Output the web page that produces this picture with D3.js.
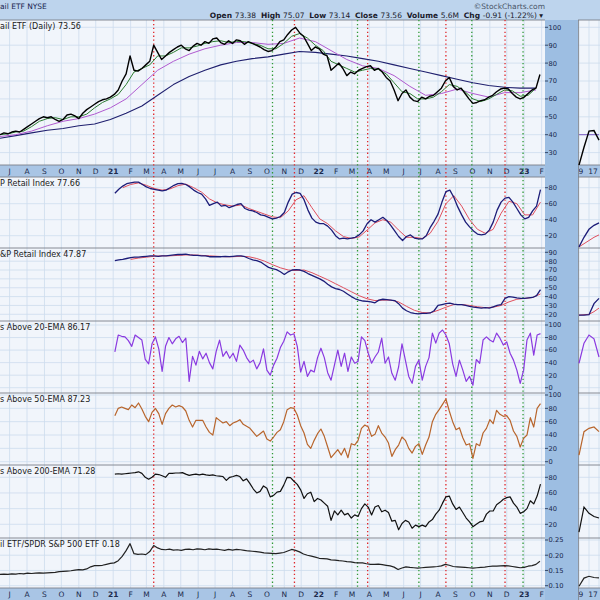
<!DOCTYPE html>
<html><head><meta charset="utf-8">
<script src="https://cdn.jsdelivr.net/npm/d3@7"></script>
<style>body{margin:0;background:#fff}svg{display:block}text{font-family:"DejaVu Sans",Verdana,sans-serif}</style>
</head><body><svg id="c" width="600" height="600"></svg>
<script>
// ---------- DATA ----------
const monthLetters = ["J","F","M","A","M","J","J","A","S","O","N","D"];
const signalDatesRed = ["2021-03-14","2021-11-19","2022-03-29","2022-08-15","2022-11-28"];
const signalDatesGreen = ["2021-10-11","2022-03-11","2022-06-28","2022-09-30","2022-12-30"];

// price panel, weekly from 2020-06-14
const priceClose = [40,41,40.5,41.5,42,41.5,43,44.5,46,47.5,
49,50,49.5,50,48.5,47.5,48.5,51,51.5,50.5,
49,52,54,55.5,57,58.5,59.5,60,61,62.5,
65,70,74,84,76,75.5,77,79,81,90,
86,82,84,86,87.5,89,90,88,87,89.5,
91,90,92,91,93.5,94,91.5,90.5,92.5,91,
93,92.5,90.5,92,91,90,89,87.5,86.5,87,
89,92,93,96,98.5,100,97,95,91,87,
89,88,85,84,76,78,80,77,73,75,
74,76,77,78,78.5,76,77,75,72,70,
65,59,63,65,61,59,58.5,61,60,61.5,
62,64,66,70,72,67,65,66,63,60,
57.5,58,59,59.5,61,62,64,65.5,66,65.5,
63,61,60,61,63,65,66,73.6];
// short MA (green), every 14 days from 2020-06-14
const maShort = [40,40.5,41.5,42,44.5,47.5,49,49.5,48.5,50,
50,51.5,55,58,60,62.5,68,75,77,79,
84,84,86,88.5,88.5,89.5,91,92,92.5,91.5,
92,92,91,90,88,88,91,95,96.5,94,
90,87,81,79,77,75,76,77,76.5,74,
69,64,63,60,60,61,64,68,67,64,
60,58.5,60,62.5,65,64.5,61.5,62,66];
// 50-day MA (purple), every 28 days from 2020-06-14
const maMid = [39,40,42,45,47.5,49,51.5,55,60,68,
76,81,85,88,90,91.5,91.5,90.5,91,94,
92,87,82,78.5,77,73,67,62,63,65.5,
63,61,63.5,63.5,65];
// 200-day MA (navy), every 28 days from 2020-06-14
const maLong = [38,39.5,41,42.5,43.5,45,46,48.5,52,56,
62,68,72.5,76,79,81,82.5,83.5,85,86.5,
86,85,84,82.5,81,79,77,75,73,71,
69,67.5,66.5,66,66];
// panel 2, weekly from 2021-01-04 (navy), signal every 14 days from 2021-01-18 (red)
const p2Index = [73,78,82,85,86,87,87,84,81,79,
78,77,76,77,80,83,85,85.5,84,81,
77,74,72,66,58,60,62,57,58,55,
57,59,60,54,52,51,49,46,45,43,
41,42,44,49,62,72,74,73,65,52,
42,37,35,35,32,27,20,16,17,16,
17,18,21,26,35,40,37,40,43,39,
33,26,19,14,19,21,17,16,16,20,
30,38,47,62,75,77,68,56,46,37,
31,26,22,21,22,27,37,52,62,67,
68,62,54,46,41,43,51,57,77.7];
const p2Signal = [80,84,86,83,79,77,78.5,82.5,84.5,80,
74.5,66,61,58.5,57,58.5,54,50.5,47,43.5,
42.5,51,65,70,55,41,35,26,19,16.5,
18.5,27,36,40,37,27,18,18,16.5,23,
38,60,70,57,40,28,23,28,48,63,
60,46,46,62];
// panel 3, weekly from 2021-01-04 (navy), signal every 14 days from 2021-02-01 (red)
const p3Index = [80.5,81.5,82,83,84,84.5,84.5,85,85.5,86,
86,85.5,86,86,86.5,87,87.5,87.5,88,87,
86.5,86.5,86,86,85,85,85,85,85.5,85,
85.5,86,86,85,83,81.5,80.5,79,76,73,
71.5,70.5,68,65,68,70,70.5,70,68.5,66,
64,62,60,57.5,54,51,49,48,46,43,
40,37.5,36,35,34.5,34,33,36,37,36.5,
36,35.5,32,27,24,22,21,20.5,21,21,
21.5,24,30,31,32,32.5,31.5,31,31,30,
29,28,27.5,27,27.5,27,28.5,30,31,38,
40,39.5,38.5,38,38,38.5,39,41,47.9];
const p3Signal = [82,83.5,84.5,85.5,86,86,86.5,87,87,86.5,
86,85.5,85,85,85.5,85,83,80,76,72.5,
70,69.5,70,67,63,59,54.5,50,45.5,41,
37.5,35.5,36,36,34,29,24.5,22,21.5,24.5,
28,31,31,30,28.5,27.5,28,30,34,37,
38,39,43];
// % above EMAs, every 6 days from 2021-01-04
const above20 = [57,84,82,81,75,66,84,80,76,45,
38,70,81,62,26,66,80,70,78,82,
72,79,10,50,36,58,46,55,40,30,
58,76,50,58,47,55,42,68,60,48,
40,44,30,40,62,28,20,36,47,64,
74,89,84,86,66,25,42,18,28,25,
48,63,48,24,12,36,60,34,55,26,
49,39,42,81,75,55,39,49,57,79,
39,49,23,12,33,70,44,18,7,34,
44,12,34,48,87,71,87,92,84,70,
38,18,44,28,10,18,4,45,39,76,
81,76,73,87,79,68,73,55,44,28,
7,28,76,87,52,84,86.2];
const above50 = [69,80,82,80,78,85,81,88,79,68,
60,74,80,72,56,72,80,85,82,84,
82,76,62,52,62,62,62,52,44,40,
66,62,58,60,54,58,60,63,56,53,
50,44,38,42,46,34,31,37,44,48,
60,78,81,80,70,54,43,26,20,32,
42,49,38,22,6,12,18,10,20,6,
27,25,32,50,55,52,38,41,54,43,
37,28,8,18,25,37,32,20,13,23,
27,11,25,37,60,71,78,86,94,76,
60,48,51,36,25,27,5,27,24,43,
50,63,57,77,71,68,69,62,46,38,
22,35,40,66,52,80,87.2];
const above200 = [84,84.5,84,84.5,85,85.5,86,87,85,80,
77.5,80,84,83.5,82,80,85,85,85.5,85.5,
86,84,82.5,83.5,84,83,84,83,82.5,83,
82,81.5,81,76,80,81,82.5,81,75.5,78,
72,65,60,62,69,66,55,57,61,62,
70,80,79.5,75,71,64,53,59,61,49,
53,51,47,43,25,37,32,38,32,34,
28,32,30,40,46,42,32,42,44,36,
38,35,24,25,13,21,25,23,15,19,
17,19,17,23,26,33,38,47,55,56,
46,39,42,35,28,23,17,20,23,24,
33,37,37,45,48,52,54,55,47,42,
34,36,40,50,46,56,71.3];
// ratio vs S&P 500, weekly from 2020-06-14
const ratio = [0.137,0.138,0.137,0.139,0.138,0.140,0.139,0.141,0.140,0.141,
0.142,0.141,0.142,0.143,0.144,0.146,0.147,0.148,0.149,0.151,
0.153,0.152,0.155,0.162,0.166,0.166,0.167,0.170,0.173,0.175,
0.182,0.196,0.215,0.238,0.205,0.203,0.204,0.202,0.212,0.232,
0.224,0.219,0.218,0.220,0.217,0.218,0.216,0.219,0.220,0.218,
0.221,0.220,0.218,0.221,0.219,0.220,0.218,0.216,0.219,0.217,
0.219,0.218,0.216,0.214,0.213,0.212,0.210,0.208,0.207,0.206,
0.205,0.207,0.209,0.214,0.219,0.216,0.211,0.204,0.200,0.197,
0.194,0.190,0.189,0.188,0.185,0.184,0.182,0.181,0.179,0.178,
0.176,0.175,0.175,0.172,0.170,0.170,0.171,0.169,0.167,0.165,
0.161,0.153,0.158,0.162,0.160,0.159,0.158,0.159,0.160,0.161,
0.162,0.163,0.165,0.170,0.167,0.163,0.162,0.161,0.160,0.159,
0.158,0.159,0.160,0.161,0.163,0.164,0.164,0.165,0.166,0.165,
0.163,0.161,0.159,0.160,0.164,0.166,0.170,0.180];
// cropped side chart (right edge)
const sideLabels = ["9","17"];
const sidePrice = [23,33,42,42.3,37];
const sideMA = [40,40,40,40,40];
const sideP2 = [6,18,28,33,36];
const sideP2s = [6,10,14,18,21];
const sideP3 = [19,19,19.5,32,38];
const sideP3s = [19,19.5,20,23,27];
const side20 = [39,71,84,78,49];
const side50 = [10,45,50,52,45];
const side200 = [10,42,34,30,28];
const sideRatio = [0.098,0.125,0.131,0.127,0.126];

// ---------- DRAW ----------
const pd = s => { const [a,b,c] = s.split("-").map(Number); return new Date(a,b-1,c); };
const ser = (start, step, vals) => vals.map((v,i)=>({d:d3.timeDay.offset(pd(start), i*step), v}));
const W = 545;
const x = d3.scaleTime().domain([pd("2020-06-14"), pd("2023-02-07")]).range([0, W]);
const svg = d3.select("#c");
const BG = "#f1f5fb", GRID = "#cddcee", BAND = "#a9c5e5", SIDE = "#9dbee2";

svg.append("rect").attr("width",600).attr("height",600).attr("fill","#fff");
svg.append("rect").attr("x",0).attr("y",0).attr("width",600).attr("height",20).attr("fill","#bdd4ed");
svg.append("rect").attr("x",W).attr("y",20).attr("width",33).attr("height",580).attr("fill",SIDE);

const panels = [
 {top:20, bot:165, y:d3.scaleLinear().domain([30,100]).range([152.6,27.3]), ticks:d3.range(30,101,10), fmt:d3.format("d"), title:"ail ETF (Daily) 73.56"},
 {top:177, bot:248, y:d3.scaleLinear().domain([20,80]).range([235.7,187.7]), ticks:[20,40,60,80], fmt:d3.format("d"), title:"P Retail Index 77.66"},
 {top:248, bot:321, y:d3.scaleLinear().domain([20,90]).range([314.3,252.3]), ticks:d3.range(20,91,10), fmt:d3.format("d"), title:"&P Retail Index 47.87"},
 {top:321, bot:393, y:d3.scaleLinear().domain([0,100]).range([387.7,325]), ticks:d3.range(0,101,20), fmt:d3.format("d"), title:"s Above 20-EMA 86.17"},
 {top:393, bot:465, y:d3.scaleLinear().domain([0,100]).range([461.7,395]), ticks:d3.range(0,101,20), fmt:d3.format("d"), title:"s Above 50-EMA 87.23"},
 {top:465, bot:538, y:d3.scaleLinear().domain([20,80]).range([524.3,477.3]), ticks:[20,40,60,80], fmt:d3.format("d"), title:"s Above 200-EMA 71.28"},
 {top:538, bot:588, y:d3.scaleLinear().domain([0.10,0.25]).range([585.7,540]), ticks:[0.10,0.15,0.20,0.25], fmt:d3.format(".2f"), title:"il ETF/SPDR S&P 500 ETF 0.18"}
];
const months = d3.timeMonth.range(pd("2020-07-01"), pd("2023-02-08"));
const sx = d3.scaleLinear().domain([0,4]).range([579,599]);
const defs = svg.append("defs");

panels.forEach((p,i)=>{
  svg.append("rect").attr("x",0).attr("y",p.top).attr("width",W).attr("height",p.bot-p.top).attr("fill",BG);
  svg.append("rect").attr("x",578).attr("y",p.top).attr("width",22).attr("height",p.bot-p.top).attr("fill",BG);
  defs.append("clipPath").attr("id","cp"+i).append("rect").attr("x",0).attr("y",p.top).attr("width",W).attr("height",p.bot-p.top);
  defs.append("clipPath").attr("id","cs"+i).append("rect").attr("x",578).attr("y",p.top).attr("width",22).attr("height",p.bot-p.top);
  const g = svg.append("g");
  g.selectAll(".vg").data(months).join("line")
   .attr("x1",d=>x(d)).attr("x2",d=>x(d)).attr("y1",p.top).attr("y2",p.bot).attr("stroke",GRID).attr("stroke-width",0.8);
  g.selectAll(".hg").data(p.ticks).join("line")
   .attr("x1",0).attr("x2",W).attr("y1",d=>p.y(d)).attr("y2",d=>p.y(d)).attr("stroke",GRID).attr("stroke-width",0.8);
  g.selectAll(".hs").data(p.ticks).join("line")
   .attr("x1",578).attr("x2",600).attr("y1",d=>p.y(d)).attr("y2",d=>p.y(d)).attr("stroke",GRID).attr("stroke-width",0.8);
  [579,589,599].forEach(v=>g.append("line").attr("x1",v).attr("x2",v).attr("y1",p.top).attr("y2",p.bot).attr("stroke",GRID).attr("stroke-width",0.8));
  // ticks & labels
  svg.append("g").selectAll("line").data(p.ticks).join("line")
   .attr("x1",W).attr("x2",W+3).attr("y1",d=>p.y(d)).attr("y2",d=>p.y(d)).attr("stroke","#1b2b4b").attr("stroke-width",0.8);
  svg.append("g").selectAll("text").data(p.ticks).join("text")
   .attr("x",W+3.5).attr("y",d=>p.y(d)+2.4).attr("font-size",6.7).attr("fill","#16254a").text(d=>p.fmt(d));
});

// date bands
function dateBand(y0){
  svg.append("rect").attr("x",0).attr("y",y0).attr("width",W).attr("height",12).attr("fill",BAND);
  svg.append("rect").attr("x",578).attr("y",y0).attr("width",22).attr("height",12).attr("fill",BAND);
  svg.append("g").selectAll("text").data(months).join("text")
   .attr("x",d=>x(d)).attr("y",y0+8.7).attr("text-anchor","middle").attr("font-size",7.5)
   .attr("font-weight",d=>d.getMonth()===0?"bold":"normal").attr("fill","#1c2a4c")
   .text(d=>d.getMonth()===0?String(d.getFullYear()).slice(2):monthLetters[d.getMonth()]);
  svg.append("g").selectAll("text").data(sideLabels).join("text")
   .attr("x",(d,i)=>i===0?581:593).attr("y",y0+8.7).attr("text-anchor","middle").attr("font-size",7.5).attr("fill","#1c2a4c").text(d=>d);
}
dateBand(165); dateBand(588);

// separators
[20,165,177,248,321,393,465,538,588].forEach(v=>{
  svg.append("line").attr("x1",0).attr("x2",W).attr("y1",v).attr("y2",v).attr("stroke","#7a7f88").attr("stroke-width",0.9);
  svg.append("line").attr("x1",578).attr("x2",600).attr("y1",v).attr("y2",v).attr("stroke","#7a7f88").attr("stroke-width",0.9);
});
svg.append("line").attr("x1",578.5).attr("x2",578.5).attr("y1",20).attr("y2",600).attr("stroke","#7a7f88").attr("stroke-width",0.8);

// signal lines
function sig(dates,color){
  svg.append("g").selectAll("line").data(dates.map(pd)).join("line")
   .attr("x1",d=>x(d)).attr("x2",d=>x(d)).attr("y1",20).attr("y2",588)
   .attr("stroke",color).attr("stroke-width",1.3).attr("stroke-dasharray","1.3,2.6");
}
sig(signalDatesGreen,"#2f9a35"); sig(signalDatesRed,"#e0262a");

function plot(i, data, color, w){
  const p = panels[i];
  svg.append("path").datum(data).attr("clip-path",`url(#cp${i})`)
   .attr("d",d3.line().x(d=>x(d.d)).y(d=>p.y(d.v)))
   .attr("fill","none").attr("stroke",color).attr("stroke-width",w).attr("stroke-linejoin","round");
}
function side(i, vals, color, w){
  const p = panels[i];
  svg.append("path").datum(vals).attr("clip-path",`url(#cs${i})`)
   .attr("d",d3.line().x((d,k)=>sx(k)).y(d=>p.y(d)))
   .attr("fill","none").attr("stroke",color).attr("stroke-width",w);
}
// panel 1
plot(0, ser("2020-06-14",28,maLong), "#1f1f6e", 1.1);
plot(0, ser("2020-06-14",28,maMid), "#b05ad0", 1.0);
plot(0, ser("2020-06-14",14,maShort), "#2e7d32", 1.0);
plot(0, ser("2020-06-14",7,priceClose), "#000", 1.4);
// panels 2..7
plot(1, ser("2021-01-18",14,p2Signal), "#e0505e", 1.0);
plot(1, ser("2021-01-04",7,p2Index), "#1c1c78", 1.3);
plot(2, ser("2021-02-01",14,p3Signal), "#e0505e", 1.0);
plot(2, ser("2021-01-04",7,p3Index), "#1c1c78", 1.3);
plot(3, ser("2021-01-04",6,above20), "#8a3ae0", 1.2);
plot(4, ser("2021-01-04",6,above50), "#b8652c", 1.2);
plot(5, ser("2021-01-04",6,above200), "#111", 1.2);
plot(6, ser("2020-06-14",7,ratio), "#222", 1.2);
// side chart
side(0, sideMA, "#7b5ac0", 1); side(0, sidePrice, "#000", 1.4);
side(1, sideP2s, "#e0505e", 1); side(1, sideP2, "#1c1c78", 1.3);
side(2, sideP3s, "#e0505e", 1); side(2, sideP3, "#1c1c78", 1.3);
side(3, side20, "#8a3ae0", 1.2); side(4, side50, "#b8652c", 1.2);
side(5, side200, "#111", 1.2); side(6, sideRatio, "#222", 1.2);

// titles
panels.forEach(p=>{
  svg.append("text").attr("x",0).attr("y",p.top+8.6).attr("font-size",8).attr("fill","#1a1a1a").text(p.title);
});
// header
svg.append("text").attr("x",0).attr("y",8.5).attr("font-size",7.5).attr("fill","#1a2550").text("ail ETF  NYSE");
svg.append("text").attr("x",545).attr("y",8.5).attr("text-anchor","end").attr("font-size",7.5).attr("fill","#4a5568").text("©StockCharts.com");
const hdr = svg.append("text").attr("x",543).attr("y",18).attr("text-anchor","end").attr("font-size",7.5).attr("fill","#1a1a2a");
[["Open ",1],["73.38  ",0],["High ",1],["75.07  ",0],["Low ",1],["73.14  ",0],["Close ",1],["73.56  ",0],["Volume ",1],["5.6M  ",0],["Chg ",1],["-0.91 (-1.22%) ▾",0]]
 .forEach(([t,b])=>hdr.append("tspan").attr("font-weight",b?"bold":"normal").attr("xml:space","preserve").text(t));
</script></body></html>
